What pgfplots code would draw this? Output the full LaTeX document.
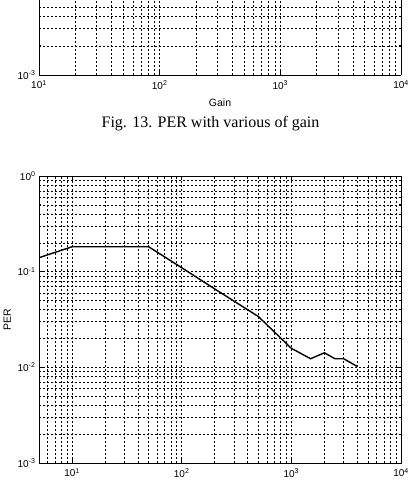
\documentclass[border=0pt]{standalone}
\usepackage{fontspec}
\setmainfont{Liberation Sans}
\newfontfamily\timesfont{Liberation Serif}
\usepackage{pgfplots}
\pgfplotsset{compat=1.18}
\pgfplotsset{
 mystyle/.style={
  scale only axis, width=362pt,
  grid=both,
  major grid style={black, line width=0.55pt, dash pattern=on 2pt off 2pt},
  minor grid style={black, line width=0.55pt, dash pattern=on 2pt off 2pt},
  axis line style={black, line width=0.8pt},
  tick align=inside,
  major tick length=4pt, minor tick length=2pt,
  tick style={black, line width=0.6pt},
  ticklabel style={font=\fontsize{10}{11}\selectfont},
  xticklabel style={yshift=-2pt},
  label style={font=\fontsize{10.5}{12}\selectfont},
  ytick={0.001,0.01,0.1,1},
  yticklabels={10\textsuperscript{-3},10\textsuperscript{-2},10\textsuperscript{-1},10\textsuperscript{0}},
  minor ytick={0.002,0.003,0.004,0.005,0.006,0.007,0.008,0.009,0.02,0.03,0.04,0.05,0.06,0.07,0.08,0.09,0.2,0.3,0.4,0.5,0.6,0.7,0.8,0.9},
  xtick={10,100,1000,10000},
  xticklabels={10\textsuperscript{1},10\textsuperscript{2},10\textsuperscript{3},10\textsuperscript{4}},
  minor xtick={6,7,8,9,20,30,40,50,60,70,80,90,200,300,400,500,600,700,800,900,2000,3000,4000,5000,6000,7000,8000,9000},
 }
}
\begin{document}
\begin{tikzpicture}[x=1pt,y=1pt]
\useasboundingbox (0,0) rectangle (410,486);
% top (previous figure, only its lower part is visible)
\begin{loglogaxis}[mystyle, at={(39pt,411pt)}, anchor=south west, height=75pt,
  xmin=10, xmax=10000, ymin=1e-3, ymax=5.93e-3, xlabel={Gain},
  xlabel style={yshift=-3pt},
  axis x line*=bottom]
\addplot[draw=none] coordinates {(10,0.001) (10000,0.005)};
\end{loglogaxis}
\node[font=\timesfont\fontsize{16}{18}\selectfont] at (210.5,362) {Fig. 13. PER with various of gain};
% bottom figure
\begin{loglogaxis}[mystyle, at={(39pt,23pt)}, anchor=south west, height=287pt,
  xmin=5, xmax=10000, ymin=1e-3, ymax=1, ylabel={PER}]
\addplot[black, line width=1.4pt] coordinates {
 (5,0.14) (10,0.182) (50,0.182) (100,0.11) (200,0.066) (500,0.034)
 (1000,0.0158) (1500,0.0123) (2000,0.0142) (2500,0.0123) (3000,0.0123) (4000,0.0102)
};
\end{loglogaxis}
\end{tikzpicture}
\end{document}
